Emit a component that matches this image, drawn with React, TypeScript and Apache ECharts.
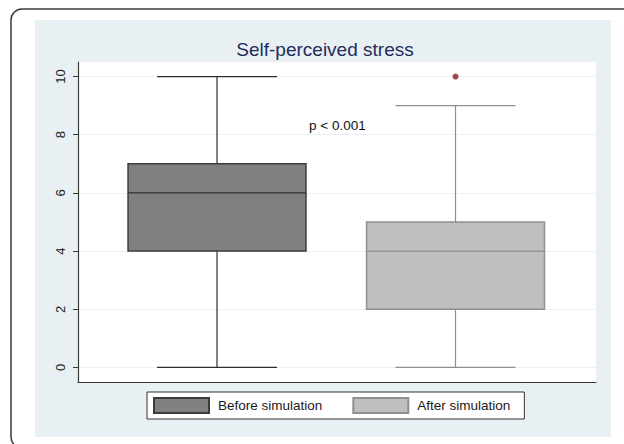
import React, { useEffect, useRef } from "react";
import * as echarts from "echarts";

const groups = ["Before simulation", "After simulation"];
const positions = [1, 2];
const whiskerLow = [0, 0];
const q1 = [4, 2];
const median = [6, 4];
const q3 = [7, 5];
const whiskerHigh = [10, 9];
const outliers: number[][] = [[2, 10]];
const yTicks = [0, 2, 4, 6, 8, 10];
const titleText = "Self-perceived stress";
const annotation = "p < 0.001";

const BOX_HALF = 0.373;
const CAP_HALF = 0.2516;

const STYLES = [
  { fill: "#808080", border: "#3c3c3c", line: "#2e2e2e" },
  { fill: "#bfbfbf", border: "#8f8f8f", line: "#8f8f8f" },
];

export default function App() {
  const ref = useRef<HTMLDivElement>(null);
  useEffect(() => {
    if (!ref.current) return;
    const chart = echarts.init(ref.current, null, { renderer: "svg" });
    const renderItem = (params: any, api: any) => {
      const st = STYLES[params.seriesIndex] || STYLES[0];
      const x = api.value(0);
      const lo = api.value(1);
      const a = api.value(2);
      const m = api.value(3);
      const b = api.value(4);
      const hi = api.value(5);
      const c = api.coord([x, 0])[0];
      const yLo = api.coord([x, lo])[1];
      const yA = api.coord([x, a])[1];
      const yM = api.coord([x, m])[1];
      const yB = api.coord([x, b])[1];
      const yHi = api.coord([x, hi])[1];
      const xL = api.coord([x - BOX_HALF, 0])[0];
      const xR = api.coord([x + BOX_HALF, 0])[0];
      const cL = api.coord([x - CAP_HALF, 0])[0];
      const cR = api.coord([x + CAP_HALF, 0])[0];
      const ls = { stroke: st.line, lineWidth: 1.2 };
      return {
        type: "group",
        children: [
          { type: "line", shape: { x1: c, y1: yHi, x2: c, y2: yB }, style: ls },
          { type: "line", shape: { x1: c, y1: yA, x2: c, y2: yLo }, style: ls },
          { type: "line", shape: { x1: cL, y1: yHi, x2: cR, y2: yHi }, style: ls },
          { type: "line", shape: { x1: cL, y1: yLo, x2: cR, y2: yLo }, style: ls },
          {
            type: "rect",
            shape: { x: xL, y: yB, width: xR - xL, height: yA - yB },
            style: { fill: st.fill, stroke: st.border, lineWidth: 1.5 },
          },
          { type: "line", shape: { x1: xL, y1: yM, x2: xR, y2: yM }, style: { stroke: st.line, lineWidth: 1.2 } },
        ],
      };
    };
    const boxSeries = groups.map((name, i) => ({
      name,
      type: "custom",
      renderItem,
      itemStyle: { color: STYLES[i].fill, borderColor: STYLES[i].border, borderWidth: 1 },
      encode: { x: 0, y: [1, 2, 3, 4, 5] },
      data: [[positions[i], whiskerLow[i], q1[i], median[i], q3[i], whiskerHigh[i]]],
      z: 3,
    }));
    chart.setOption({
      animation: false,
      backgroundColor: "#ffffff",
      textStyle: { fontFamily: "Liberation Sans, Arial, sans-serif" },
      graphic: [
        {
          type: "rect",
          z: -10,
          shape: { x: 11, y: 9, width: 640, height: 439, r: 11 },
          style: { fill: "#ffffff", stroke: "#3a3a3a", lineWidth: 1.5 },
        },
        {
          type: "rect",
          z: -9,
          shape: { x: 35, y: 20, width: 576, height: 417 },
          style: { fill: "#e8f0f3" },
        },
        {
          type: "text",
          z: 10,
          x: 309,
          y: 118,
          style: {
            text: annotation,
            fontSize: 13.5,
            fill: "#111",
            fontFamily: "Liberation Sans, Arial, sans-serif",
          },
        },
      ],
      title: {
        text: titleText,
        left: 320,
        textAlign: "center",
        top: 35,
        textStyle: {
          fontSize: 19,
          fontWeight: "normal",
          color: "#1f2c5c",
          fontFamily: "Liberation Sans, Arial, sans-serif",
        },
      },
      legend: {
        data: groups,
        left: 147,
        top: 392,
        orient: "horizontal",
        icon: "rect",
        itemWidth: 55,
        itemHeight: 15,
        itemGap: 30,
        padding: [5, 14, 5, 6],
        backgroundColor: "#ffffff",
        borderColor: "#333",
        borderWidth: 1,
        selectedMode: false,
        textStyle: {
          fontSize: 13.5,
          color: "#1a1a1a",
          padding: [0, 0, 0, 4],
          fontFamily: "Liberation Sans, Arial, sans-serif",
        },
      },
      grid: {
        left: 78,
        top: 62,
        width: 518,
        height: 320,
        show: true,
        backgroundColor: "#ffffff",
        borderWidth: 0,
      },
      xAxis: {
        type: "value",
        min: 0.4172,
        max: 2.589,
        axisLine: { show: true, onZero: false, lineStyle: { color: "#3a3a3a", width: 1.2 } },
        axisTick: { show: false },
        axisLabel: { show: false },
        splitLine: { show: false },
      },
      yAxis: {
        type: "value",
        min: -0.5,
        max: 10.5,
        axisLine: { show: true, onZero: false, lineStyle: { color: "#3a3a3a", width: 1.2 } },
        axisTick: { show: true, length: 5, customValues: yTicks, lineStyle: { color: "#3a3a3a" } },
        axisLabel: {
          show: true,
          customValues: yTicks,
          rotate: 90,
          margin: 11,
          fontSize: 13,
          color: "#222",
          fontFamily: "Liberation Sans, Arial, sans-serif",
        },
        splitLine: { show: true, lineStyle: { color: "#e9f1f3", width: 1 } },
      },
      series: [
        ...boxSeries,
        {
          name: "outliers",
          type: "scatter",
          symbol: "circle",
          symbolSize: 6,
          itemStyle: { color: "#8b1c24" },
          data: outliers,
          z: 4,
        },
      ],
    });
    return () => chart.dispose();
  }, []);
  return (
    <div
      ref={ref}
      style={{ position: "fixed", left: 0, top: 0, width: 624, height: 444 }}
    />
  );
}
